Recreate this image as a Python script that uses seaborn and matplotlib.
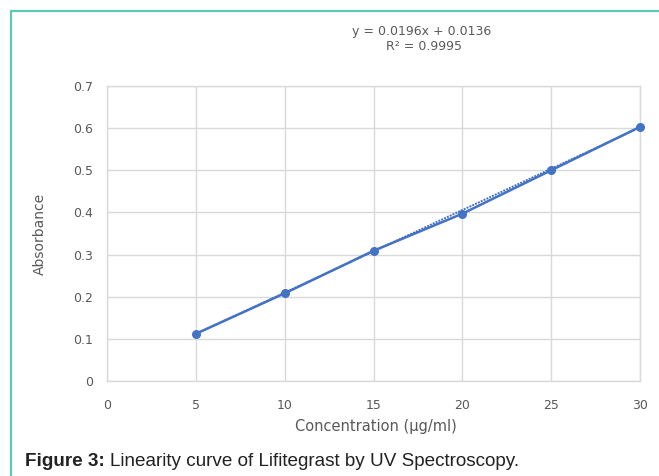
import matplotlib
matplotlib.use("Agg")
import matplotlib.pyplot as plt
import seaborn as sns
import numpy as np
import pandas as pd
from matplotlib.lines import Line2D

concentration = [5, 10, 15, 20, 25, 30]
absorbance = [0.112, 0.208, 0.309, 0.397, 0.500, 0.603]
slope = 0.0196
intercept = 0.0136
x_ticks = [0, 5, 10, 15, 20, 25, 30]
y_ticks = [0, 0.1, 0.2, 0.3, 0.4, 0.5, 0.6, 0.7]
y_tick_labels = ["0", "0.1", "0.2", "0.3", "0.4", "0.5", "0.6", "0.7"]
equation_text = "y = 0.0196x + 0.0136"
r2_text = "R² = 0.9995"
x_label = "Concentration (µg/ml)"
y_label = "Absorbance"
caption_bold = "Figure 3:"
caption_text = "Linearity curve of Lifitegrast by UV Spectroscopy."

sns.set_theme(style="white")
plt.rcParams['font.family'] = ['DejaVu Sans']

W, H = 659, 476
df = pd.DataFrame({"conc": concentration, "abs": absorbance})
trend_x = [concentration[0], concentration[-1]]
trend_df = pd.DataFrame({"conc": trend_x, "abs": [slope * v + intercept for v in trend_x]})

fig = plt.figure(figsize=(W / 100, H / 100), dpi=100)
ax_l, ax_r, ax_t, ax_b = 107, 640, 86, 381
ax = fig.add_axes([ax_l / W, 1 - ax_b / H, (ax_r - ax_l) / W, (ax_b - ax_t) / H])

blue = "#4472C4"
sns.lineplot(data=trend_df, x="conc", y="abs", ax=ax, color=blue, lw=1.4,
             linestyle=(0, (1, 0.6)), zorder=3)
sns.lineplot(data=df, x="conc", y="abs", ax=ax, color=blue, lw=1.8,
             marker="o", markersize=6.5, markeredgewidth=0, zorder=4)
for ln in ax.lines:
    ln.set_clip_on(False)

ax.set_xlim(0, 30)
ax.set_ylim(0, 0.7)
ax.set_xticks(x_ticks)
ax.set_yticks(y_ticks)
ax.set_yticklabels(y_tick_labels)
ax.grid(True, color="#d9d9d9", lw=1)
for s in ax.spines.values():
    s.set_color("#d9d9d9")
    s.set_linewidth(1)
ax.tick_params(axis="both", length=0, labelsize=9, labelcolor="#595959")
ax.tick_params(axis="y", pad=10)
ax.tick_params(axis="x", pad=13)
ax.set_xlabel(x_label, fontsize=10.5, color="#595959")
ax.set_ylabel(y_label, fontsize=10, color="#595959")
ax.xaxis.set_label_coords(((ax_l + ax_r) / 2 - ax_l) / (ax_r - ax_l) + 0.005, (ax_b - 426) / (ax_b - ax_t))
ax.xaxis.label.set_va("center")
ax.yaxis.set_label_coords((40 - ax_l) / (ax_r - ax_l), 0.5)
ax.yaxis.label.set_va("center")

fig.text(422 / W, 1 - 32 / H, equation_text, ha="center", va="center", fontsize=9, color="#595959")
fig.text(424 / W, 1 - 47 / H, r2_text, ha="center", va="center", fontsize=9, color="#595959")

# teal frame
teal = "#5dcab9"
fig.add_artist(Line2D([11 / W, 1.0], [1 - 11 / H, 1 - 11 / H], color=teal, lw=1.6, transform=fig.transFigure))
fig.add_artist(Line2D([11 / W, 11 / W], [0, 1 - 11 / H], color=teal, lw=1.6, transform=fig.transFigure))

# caption
cap_font = ["Liberation Sans", "DejaVu Sans"]
t1 = fig.text(25 / W, 1 - 462 / H, caption_bold, ha="left", va="center", fontsize=13.6,
              fontweight="bold", family=cap_font, color="#222222")
fig.canvas.draw()
bb = t1.get_window_extent()
fig.text((bb.x1 + 5) / W, 1 - 462 / H, caption_text,
         ha="left", va="center", fontsize=13.6, family=cap_font, color="#222222")

fig.savefig("out.png", dpi=100)
